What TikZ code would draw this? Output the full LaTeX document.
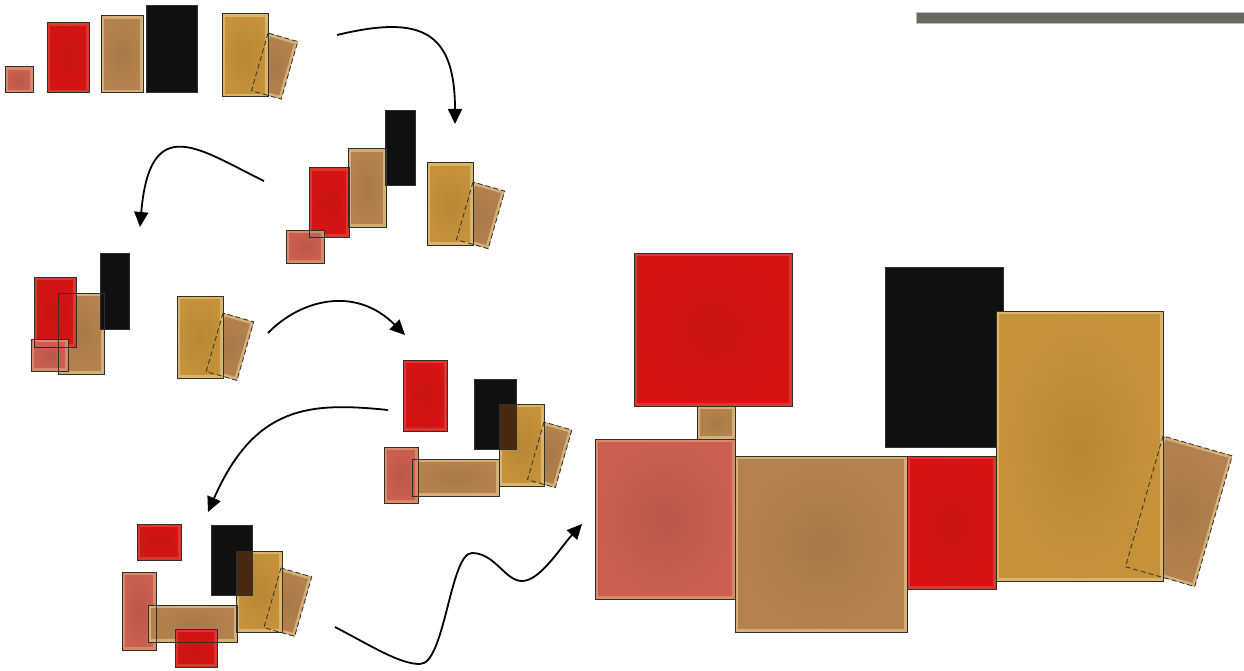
\documentclass[tikz,border=0pt]{standalone}
\usetikzlibrary{arrows.meta,calc,backgrounds}
\definecolor{salC}{RGB}{203,96,80}
\definecolor{redC}{RGB}{214,20,20}
\definecolor{tanC}{RGB}{180,130,78}
\definecolor{gldC}{RGB}{198,146,58}
\definecolor{blkC}{RGB}{16,16,16}
\definecolor{creamC}{RGB}{246,226,165}
\definecolor{duskC}{RGB}{72,42,18}
\definecolor{edgeC}{RGB}{48,48,48}
\definecolor{barC}{RGB}{106,106,96}
\tikzset{
  edge/.style    ={draw=edgeC,line width=1pt},
  sal fill/.style={inner color=salC!92!black,outer color=salC},
  red fill/.style={inner color=redC!93!black,outer color=redC},
  tan fill/.style={inner color=tanC!93!black,outer color=tanC},
  gld fill/.style={inner color=gldC!92!black,outer color=gldC},
  blk fill/.style={fill=blkC},
  sal rim/.style ={draw=salC!60!creamC,line width=2.5pt,opacity=.8},
  red rim/.style ={draw=redC!75!creamC,line width=2.5pt,opacity=.7},
  tan rim/.style ={draw=tanC!40!creamC,line width=2.5pt,opacity=.8},
  gld rim/.style ={draw=gldC!45!creamC,line width=2.5pt,opacity=.8},
  blk rim/.style ={draw=none},
  cut/.style     ={draw=edgeC,line width=0.8pt,dash pattern=on 5pt off 3pt},
  dusk/.style    ={fill=duskC},
  ar/.style      ={-{Triangle[length=15pt,width=14pt]},line width=1.8pt},
  bar/.style     ={fill=barC,draw=barC!45!white,line width=0.8pt},
}
% #1 colour key, #2 top left, #3 bottom right (pixel units, y down)
\newcommand\tile[3]{%
  \begin{pgfonlayer}{background}
    \path[#1 fill] (#2) rectangle (#3);
    \draw[#1 rim] ($(#2)+(1.7,1.7)$) rectangle ($(#3)-(1.7,1.7)$);
  \end{pgfonlayer}
  \draw[edge] (#2) rectangle (#3);}
% leaning piece: #1 top left corner, #2 width, #3 height
\newcommand\lean[3]{%
  \begin{scope}[shift={(#1)},rotate=-16]
    \begin{pgfonlayer}{background}
      \path[tan fill] (0,0) rectangle (#2,#3);
      \draw[tan rim] (1.7,1.7) rectangle ({#2-1.7},{#3-1.7});
    \end{pgfonlayer}
    \draw[cut] (0,0) rectangle (#2,#3);
  \end{scope}}

\begin{document}
\begin{tikzpicture}[x=1pt,y=-1pt]
  \useasboundingbox (0,0) rectangle (1244,671);
  \draw[bar] (916,12) rectangle (1244,23);

  % first row
  \tile{sal}{5,67}{33,93}
  \tile{red}{47,23}{89,93}
  \tile{tan}{101,16}{143,93}
  \tile{blk}{146,6}{197,93}
  \lean{268,33}{31}{60}
  \tile{gld}{222,14}{268,97}

  % second
  \tile{red}{309,168}{349,237}
  \tile{sal}{286,230}{324,263}
  \tile{tan}{348,149}{386,227}
  \tile{blk}{385,111}{415,186}
  \lean{473,182}{33}{60}
  \tile{gld}{427,163}{473,245}

  % third
  \tile{tan}{58,293}{104,374}
  \tile{red}{34,277}{76,347}
  \tile{sal}{31,339}{68,371}
  \tile{blk}{100,253}{129,329}
  \lean{223,313}{32}{61}
  \tile{gld}{177,296}{223,378}

  % fourth
  \tile{red}{403,360}{447,431}
  \lean{544,422}{29}{60}
  \tile{gld}{499,404}{544,486}
  \tile{blk}{474,379}{516,449}
  \begin{pgfonlayer}{background}\fill[dusk] (499,404) rectangle (516,449);\end{pgfonlayer}
  \tile{tan}{412,459}{499,496}
  \tile{sal}{384,447}{418,503}

  % fifth
  \tile{red}{137,524}{181,560}
  \lean{281,568}{32}{62}
  \tile{gld}{236,551}{282,632}
  \tile{blk}{211,525}{252,595}
  \begin{pgfonlayer}{background}\fill[dusk] (236,551) rectangle (252,595);\end{pgfonlayer}
  \tile{sal}{122,572}{156,650}
  \tile{tan}{148,605}{237,642}
  \tile{red}{175,629}{217,667}

  % result
  \tile{red}{634,253}{792,406}
  \tile{tan}{697,406}{735,439}
  \tile{sal}{595,439}{735,599}
  \tile{tan}{735,456}{907,632}
  \begin{pgfonlayer}{background}
    \path[blk fill] (885,267) rectangle (1003,447);
    \draw[edge] (885,267) rectangle (1003,447);
  \end{pgfonlayer}
  \tile{red}{907,456}{996,589}
  \lean{1163,436}{72}{136}
  \tile{gld}{996,311}{1163,581}

  % steps
  \coordinate (s1) at (337,35);  \coordinate (e1) at (455,124);
  \coordinate (s2) at (264,181); \coordinate (e2) at (140,227);
  \coordinate (s3) at (268,333); \coordinate (e3) at (405,335);
  \coordinate (s4) at (388,410); \coordinate (e4) at (208,512);
  \coordinate (s5) at (335,627); \coordinate (e5) at (582,524);
  \draw[ar] (s1) .. controls (420,15) and (455,30) .. (e1);
  \draw[ar] (s2) .. controls (200,150) and (150,110) .. (e2);
  \draw[ar] (s3) .. controls (300,300) and (355,285) .. (e3);
  \draw[ar] (s4) .. controls (310,402) and (255,405) .. (e4);
  \draw[ar] (s5) .. controls (375,648) and (400,664) .. (420,664)
    .. controls (445,664) and (450,553) .. (472,553)
    .. controls (495,553) and (505,581) .. (522,581)
    .. controls (540,581) and (560,548) .. (e5);
\end{tikzpicture}
\end{document}
